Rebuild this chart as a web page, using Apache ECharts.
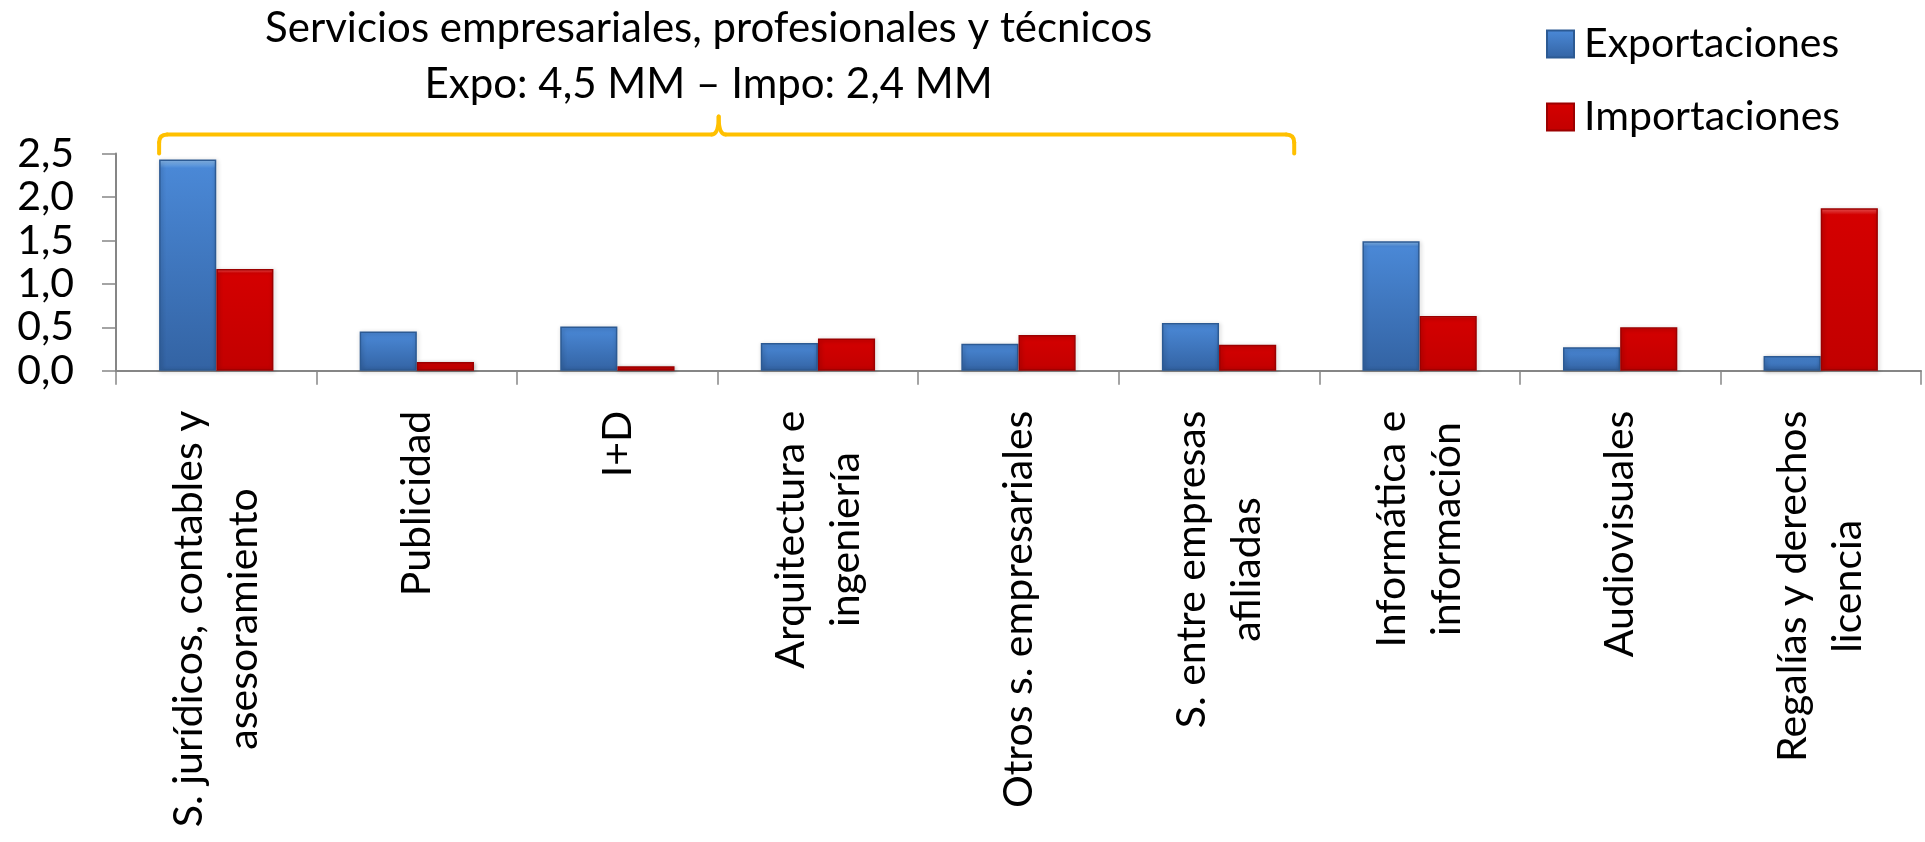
<!DOCTYPE html>
<html>
<head>
<meta charset="utf-8">
<script src="https://cdn.jsdelivr.net/npm/echarts@6/dist/echarts.min.js"></script>
<style>
  html, body { margin: 0; padding: 0; background: #fff; }
  #chart { width: 1925px; height: 842px; }
</style>
</head>
<body>
<div id="chart"></div>
<script>
// datos (miles de millones)
const categories = [
  'S. jurídicos, contables y\nasesoramiento',
  'Publicidad',
  'I+D',
  'Arquitectura e\ningeniería',
  'Otros s. empresariales',
  'S. entre empresas\nafiliadas',
  'Informática e\ninformación',
  'Audiovisuales',
  'Regalías y derechos\nlicencia'
]
const exportaciones = [2.43, 0.45, 0.51, 0.32, 0.31, 0.55, 1.49, 0.27, 0.17]
const importaciones = [1.17, 0.10, 0.05, 0.37, 0.41, 0.30, 0.63, 0.50, 1.87]
const seriesNames = ['Exportaciones', 'Importaciones']
const yMin = 0
const yMax = 2.5
const yStep = 0.5
const titleLines = ['Servicios empresariales, profesionales y técnicos', 'Expo: 4,5 MM – Impo: 2,4 MM']
const braceFrom = 0   // primera categoría bajo la llave
const braceTo = 5     // última categoría bajo la llave

const FONT = 'Lato, "Open Sans", sans-serif'
const FS = 41

const chart = echarts.init(document.getElementById('chart'))

const grad = (top, mid, bottom) => new echarts.graphic.LinearGradient(0, 0, 0, 1, [
  { offset: 0, color: top },
  { offset: 0.04, color: mid },
  { offset: 1, color: bottom }
])

const option = {
  animation: false,
  textStyle: { fontFamily: FONT },
  legend: {
    orient: 'vertical',
    left: 1541,
    top: 14,
    itemWidth: 27,
    itemHeight: 27,
    itemGap: 23,
    icon: 'rect',
    textStyle: { fontSize: FS, color: '#000', lineHeight: 50, padding: [0, 0, 0, 5] },
    data: seriesNames
  },
  grid: {
    left: 116,
    right: 4,
    top: 153.5,
    bottom: 471.3,
    outerBoundsMode: 'none'
  },
  xAxis: {
    type: 'category',
    data: categories,
    axisLine: { lineStyle: { color: '#868686', width: 2 } },
    axisTick: { show: true, length: 14, lineStyle: { color: '#868686', width: 1.5 } },
    axisLabel: {
      interval: 0,
      rotate: 90,
      margin: 40,
      color: '#000',
      fontSize: FS,
      lineHeight: 55,
      formatter: v => v.split('\n').map(l => '{c|' + l + '}').join('\n'),
      rich: { c: { align: 'center', fontSize: FS, lineHeight: 55, color: '#000', fontFamily: FONT } }
    }
  },
  yAxis: {
    type: 'value',
    min: yMin,
    max: yMax,
    interval: yStep,
    splitLine: { show: false },
    axisLine: { show: true, lineStyle: { color: '#868686', width: 2 } },
    axisTick: { show: true, length: 14, lineStyle: { color: '#868686', width: 1.5 } },
    axisLabel: {
      margin: 42,
      color: '#000',
      fontSize: FS,
      formatter: v => v.toFixed(1).replace('.', ',')
    }
  },
  series: [
    {
      name: seriesNames[0],
      type: 'bar',
      data: exportaciones,
      barGap: '0%',
      barCategoryGap: '43%',
      itemStyle: {
        color: grad('#8ec0f2', '#4a88d6', '#3363a3'),
        borderColor: '#2c5a93',
        borderWidth: 1.5,
        shadowBlur: 4,
        shadowColor: 'rgba(0,0,0,0.3)',
        shadowOffsetX: 1,
        shadowOffsetY: 1
      }
    },
    {
      name: seriesNames[1],
      type: 'bar',
      data: importaciones,
      barGap: '0%',
      barCategoryGap: '43%',
      itemStyle: {
        color: grad('#ff5a5a', '#d40000', '#c20000'),
        borderColor: '#9c0000',
        borderWidth: 1.5,
        shadowBlur: 4,
        shadowColor: 'rgba(0,0,0,0.3)',
        shadowOffsetX: 1,
        shadowOffsetY: 1
      }
    }
  ]
}

chart.setOption(option)

// llave amarilla y título encima, situados con las escalas del gráfico
const px = v => chart.convertToPixel({ xAxisIndex: 0 }, v)
const bandW = px(1) - px(0)
const barW = bandW * (1 - 0.43) / 2
const yTop = chart.convertToPixel({ yAxisIndex: 0 }, yMax)
const x0 = px(braceFrom) - barW
const x1 = px(braceTo) + barW + 18
const xm = (x0 + x1) / 2 - 8
const yh = yTop - 19
const yp = yTop - 37
const r = 8

const braceStyle = { stroke: '#ffc000', lineWidth: 4, fill: null, lineCap: 'round' }
const seg = (a, b, c, d) => ({ type: 'line', shape: { x1: a, y1: b, x2: c, y2: d }, style: braceStyle })
const curve = (a, b, c, d, cx, cy) => ({
  type: 'bezierCurve',
  shape: { x1: a, y1: b, x2: c, y2: d, cpx1: cx, cpy1: cy },
  style: braceStyle
})

chart.setOption({
  graphic: [
    seg(x0, yTop, x0, yh + r),
    curve(x0, yh + r, x0 + r, yh, x0, yh),
    seg(x0 + r, yh, xm - 7, yh),
    curve(xm - 7, yh, xm, yp, xm, yh),
    curve(xm, yp, xm + 7, yh, xm, yh),
    seg(xm + 7, yh, x1 - r, yh),
    curve(x1 - r, yh, x1, yh + r, x1, yh),
    seg(x1, yh + r, x1, yTop),
    {
      type: 'text',
      x: xm - 10,
      y: 0,
      style: {
        text: titleLines.join('\n'),
        align: 'center',
        verticalAlign: 'top',
        fontSize: 42,
        fontFamily: FONT,
        lineHeight: 56,
        fill: '#000'
      }
    }
  ]
})
</script>
</body>
</html>
